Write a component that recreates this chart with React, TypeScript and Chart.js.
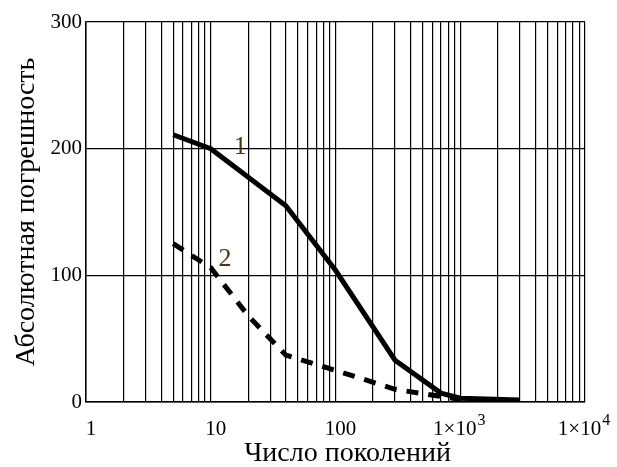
import React, { useEffect, useRef } from "react";
import { Chart, registerables } from "chart.js";

Chart.register(...registerables);

// Curve 1 (solid)
const generations1 = [5, 10, 40, 100, 300, 700, 1000, 3000];
const error1 = [211, 200, 155, 104, 33, 7, 3, 1.5];

// Curve 2 (dashed)
const generations2 = [5, 10, 20, 40, 100, 300, 1000];
const error2 = [125, 106, 68, 37, 25, 10, 2];

// Log grid positions on the x axis
const xGridValues = [
  1, 2, 3, 4, 5, 6, 7, 8, 9,
  10, 20, 30, 40, 50, 60, 70, 80, 90,
  100, 200, 300, 400, 500, 600, 700, 800, 900,
  1000, 2000, 3000, 4000, 5000, 6000, 7000, 8000, 9000,
  10000,
];
const xTickValues = [1, 10, 100, 1000, 10000];
const xTickBase = ["1", "10", "100", "1×10", "1×10"];
const xTickExp = ["", "", "", "3", "4"];
const yTickValues = [0, 100, 200, 300];

const xTitle = "Число поколений";
const yTitle = "Абсолютная погрешность";

const curveLabelTexts = ["1", "2"];
const curveLabelX = [17.2, 13];
const curveLabelY = [201, 113];

const SERIF = '"Liberation Serif", "Times New Roman", serif';

export default function App() {
  const ref = useRef<HTMLCanvasElement>(null);

  useEffect(() => {
    const canvas = ref.current;
    if (!canvas) return;

    const annotations = {
      id: "annotations",
      afterDraw(chart: any) {
        const { ctx, chartArea, scales } = chart;
        const xs = scales.x;
        const ys = scales.y;
        ctx.save();
        ctx.fillStyle = "#000";

        // x tick labels with superscript exponents
        const baseFont = `21px ${SERIF}`;
        const supFont = `16px ${SERIF}`;
        const baseY = chartArea.bottom + 33;
        ctx.textBaseline = "alphabetic";
        ctx.textAlign = "left";
        xTickValues.forEach((v, i) => {
          ctx.font = baseFont;
          const bw = ctx.measureText(xTickBase[i]).width;
          ctx.font = supFont;
          const ew = xTickExp[i] ? ctx.measureText(xTickExp[i]).width + 1 : 0;
          const total = bw + ew;
          const shift = xTickExp[i] ? -1 : 5;
          const left = xs.getPixelForValue(v) + shift - total / 2;
          ctx.font = baseFont;
          ctx.fillText(xTickBase[i], left, baseY);
          if (xTickExp[i]) {
            ctx.font = supFont;
            ctx.fillText(xTickExp[i], left + bw + 1, baseY - 10);
          }
        });

        // axis titles
        ctx.textAlign = "center";
        ctx.font = `28px ${SERIF}`;
        ctx.fillText(xTitle, (chartArea.left + chartArea.right) / 2 + 12, 461);
        ctx.save();
        ctx.translate(34, (chartArea.top + chartArea.bottom) / 2);
        ctx.rotate(-Math.PI / 2);
        ctx.fillText(yTitle, 0, 0);
        ctx.restore();

        // curve labels
        ctx.font = `26px ${SERIF}`;
        ctx.fillStyle = "#4a3218";
        ctx.textBaseline = "middle";
        curveLabelTexts.forEach((t, i) => {
          ctx.fillText(
            t,
            xs.getPixelForValue(curveLabelX[i]),
            ys.getPixelForValue(curveLabelY[i])
          );
        });
        ctx.restore();
      },
    };

    const chart = new Chart(canvas, {
      type: "line",
      data: {
        datasets: [
          {
            data: generations2.map((x, i) => ({ x, y: error2[i] })),
            borderColor: "#000",
            borderWidth: 5,
            borderDash: [12, 10],
            pointRadius: 0,
            fill: false,
            tension: 0,
          },
          {
            data: generations1.map((x, i) => ({ x, y: error1[i] })),
            borderColor: "#000",
            borderWidth: 5,
            pointRadius: 0,
            fill: false,
            tension: 0,
          },
        ],
      },
      options: {
        animation: false,
        responsive: false,
        devicePixelRatio: 1,
        layout: { padding: { top: 22, right: 32, left: 0, bottom: 0 } },
        plugins: {
          legend: { display: false },
          tooltip: { enabled: false },
          title: { display: false },
        },
        scales: {
          x: {
            type: "logarithmic",
            min: 1,
            max: 10000,
            afterBuildTicks: (s: any) => {
              s.ticks = xGridValues.map((v) => ({ value: v }));
            },
            afterFit: (s: any) => {
              s.height = 65;
              s.paddingLeft = 0;
              s.paddingRight = 0;
            },
            grid: { color: "#000", lineWidth: 1.2, drawTicks: false },
            border: { color: "#000", width: 1.5 },
            ticks: {
              autoSkip: false,
              maxRotation: 0,
              minRotation: 0,
              color: "#000",
              font: { family: SERIF, size: 21 },
              callback: () => "",
            },
          },
          y: {
            type: "linear",
            min: 0,
            max: 300,
            afterBuildTicks: (s: any) => {
              s.ticks = yTickValues.map((v) => ({ value: v }));
            },
            afterFit: (s: any) => {
              s.width = 86;
              s.paddingTop = 0;
              s.paddingBottom = 0;
            },
            grid: { color: "#000", lineWidth: 1.2, drawTicks: false },
            border: { color: "#000", width: 1.5 },
            ticks: {
              padding: 4,
              color: "#000",
              font: { family: SERIF, size: 21 },
            },
          },
        },
      },
      plugins: [annotations],
    });

    return () => chart.destroy();
  }, []);

  return (
    <div style={{ position: "absolute", left: 0, top: 0, width: 617, height: 467, background: "#fff" }}>
      <canvas ref={ref} width={617} height={467} style={{ width: 617, height: 467 }} />
    </div>
  );
}
